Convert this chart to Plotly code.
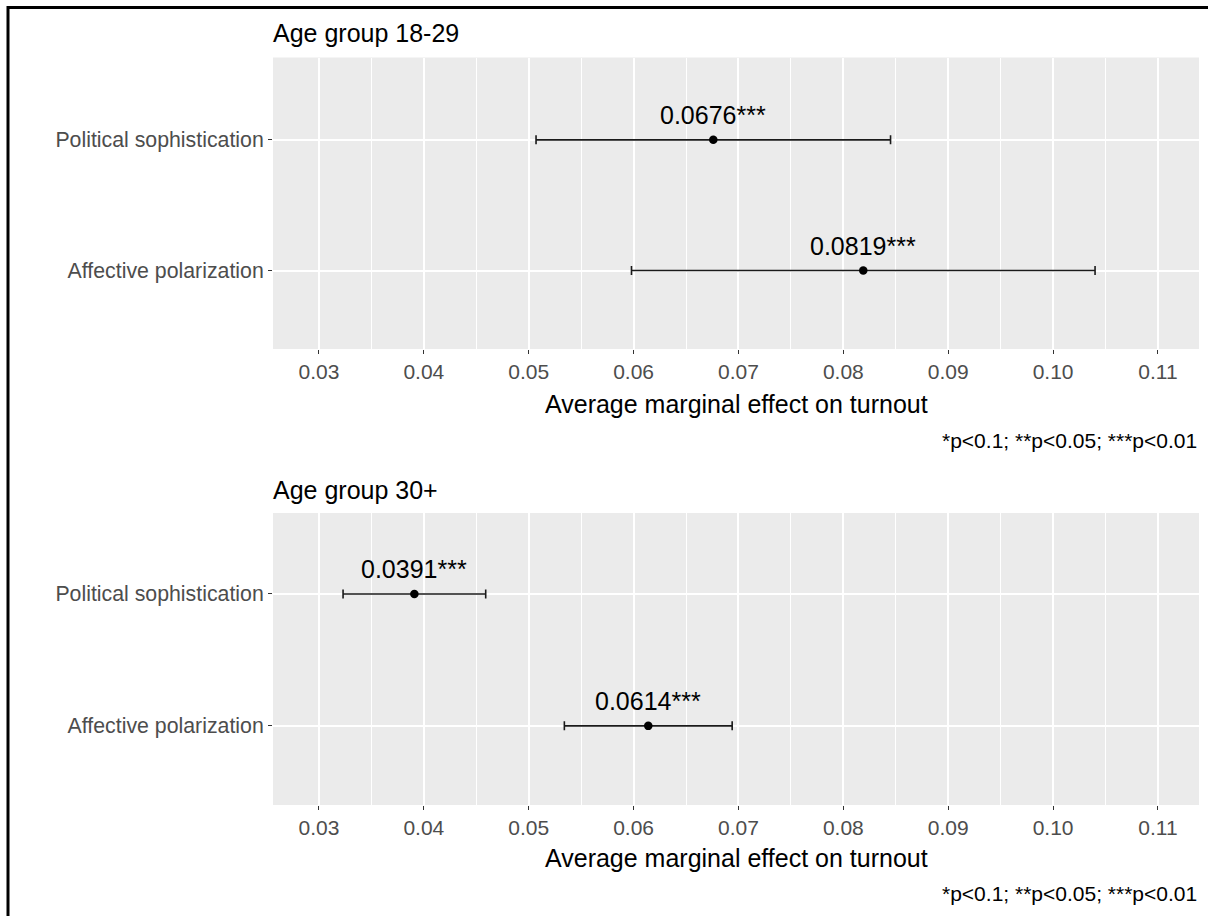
import plotly.graph_objects as go

W, H = 1208, 916

categories = ["Affective polarization", "Political sophistication"]
panel_titles = ["Age group 18-29", "Age group 30+"]
estimates_1829 = [0.0819, 0.0676]
ci_half_1829 = [0.0221, 0.0169]
estimates_30 = [0.0614, 0.0391]
ci_half_30 = [0.0080, 0.0068]
labels_1829 = ["0.0819***", "0.0676***"]
labels_30 = ["0.0614***", "0.0391***"]
x_ticks = [0.03, 0.04, 0.05, 0.06, 0.07, 0.08, 0.09, 0.10, 0.11]
x_tick_text = ["0.03", "0.04", "0.05", "0.06", "0.07", "0.08", "0.09", "0.10", "0.11"]
x_minor = [0.025, 0.035, 0.045, 0.055, 0.065, 0.075, 0.085, 0.095, 0.105]
x_title = "Average marginal effect on turnout"
caption = "*p<0.1; **p<0.05; ***p<0.01"

FONT = "Liberation Sans, Arial, sans-serif"

def py(px):
    return 1 - px / H

def pxx(px):
    return px / W

x_dom = [pxx(273), pxx(1199)]
panels = [
    dict(est=estimates_1829, err=ci_half_1829, lab=labels_1829, title=panel_titles[0],
         top=57.5, bottom=349, yr=[-0.6, 1.63], ax="", title_y=33, xt_y=404, cap_y=440),
    dict(est=estimates_30, err=ci_half_30, lab=labels_30, title=panel_titles[1],
         top=513, bottom=805, yr=[-0.6, 1.614], ax="2", title_y=490, xt_y=858, cap_y=893),
]

fig = go.Figure()
annotations = []
for p in panels:
    xa = "x" + p["ax"]
    ya = "y" + p["ax"]
    fig.add_trace(go.Scatter(
        x=p["est"], y=categories, mode="markers",
        marker=dict(color="black", size=8.5),
        error_x=dict(type="data", array=p["err"], color="#1a1a1a", thickness=1.6, width=4.5),
        xaxis=xa, yaxis=ya, showlegend=False, hoverinfo="skip"))
    for xv, cat, t in zip(p["est"], categories, p["lab"]):
        annotations.append(dict(x=xv, y=cat, xref=xa, yref=ya, text=t, showarrow=False,
                                yshift=25, font=dict(family=FONT, size=25, color="black")))
    annotations.append(dict(x=x_dom[0], y=py(p["title_y"]), xref="paper", yref="paper",
                            text=p["title"], showarrow=False, xanchor="left", yanchor="middle",
                            xshift=-2,
                            font=dict(family=FONT, size=25, color="black")))
    annotations.append(dict(x=(x_dom[0] + x_dom[1]) / 2, y=py(p["xt_y"]), xref="paper", yref="paper",
                            text=x_title, showarrow=False, xanchor="center", yanchor="middle",
                            font=dict(family=FONT, size=25, color="black")))
    annotations.append(dict(x=x_dom[1], y=py(p["cap_y"]), xref="paper", yref="paper",
                            text=caption, showarrow=False, xanchor="right", yanchor="middle",
                            font=dict(family=FONT, size=21, color="black")))

axis_common_x = dict(
    range=[0.02562, 0.11391], tickvals=x_ticks, ticktext=x_tick_text,
    showgrid=True, gridcolor="white", gridwidth=1.6, zeroline=False,
    ticks="outside", ticklen=4, tickwidth=1.2, tickcolor="#333333",
    tickfont=dict(family=FONT, size=21, color="#4D4D4D"),
    minor=dict(tickvals=x_minor, showgrid=True, gridcolor="white", gridwidth=0.8, ticks=""),
    showline=False, fixedrange=True,
)
axis_common_y = dict(
    type="category", categoryorder="array", categoryarray=categories,
    showgrid=True, gridcolor="white", gridwidth=1.6, zeroline=False,
    ticks="outside", ticklen=4, tickwidth=1.2, tickcolor="#333333",
    tickfont=dict(family=FONT, size=21.3, color="#4D4D4D"), showline=False, fixedrange=True,
)

fig.update_layout(
    width=W, height=H,
    margin=dict(l=0, r=0, t=0, b=0),
    paper_bgcolor="white", plot_bgcolor="#EBEBEB",
    xaxis=dict(domain=x_dom, anchor="y", **axis_common_x),
    yaxis=dict(domain=[py(panels[0]["bottom"]), py(panels[0]["top"])], anchor="x",
               range=panels[0]["yr"], **axis_common_y),
    xaxis2=dict(domain=x_dom, anchor="y2", **axis_common_x),
    yaxis2=dict(domain=[py(panels[1]["bottom"]), py(panels[1]["top"])], anchor="x2",
                range=panels[1]["yr"], **axis_common_y),
    annotations=annotations,
    shapes=[
        dict(type="line", xref="paper", yref="paper", x0=pxx(7), x1=1, y0=py(7.5), y1=py(7.5),
             line=dict(color="black", width=3)),
        dict(type="line", xref="paper", yref="paper", x0=pxx(8), x1=pxx(8), y0=0, y1=py(6),
             line=dict(color="black", width=3)),
    ],
)

fig.write_html("out.html", config={"displayModeBar": False},
               post_script="document.body.style.margin='0';document.body.style.overflow='hidden';")
